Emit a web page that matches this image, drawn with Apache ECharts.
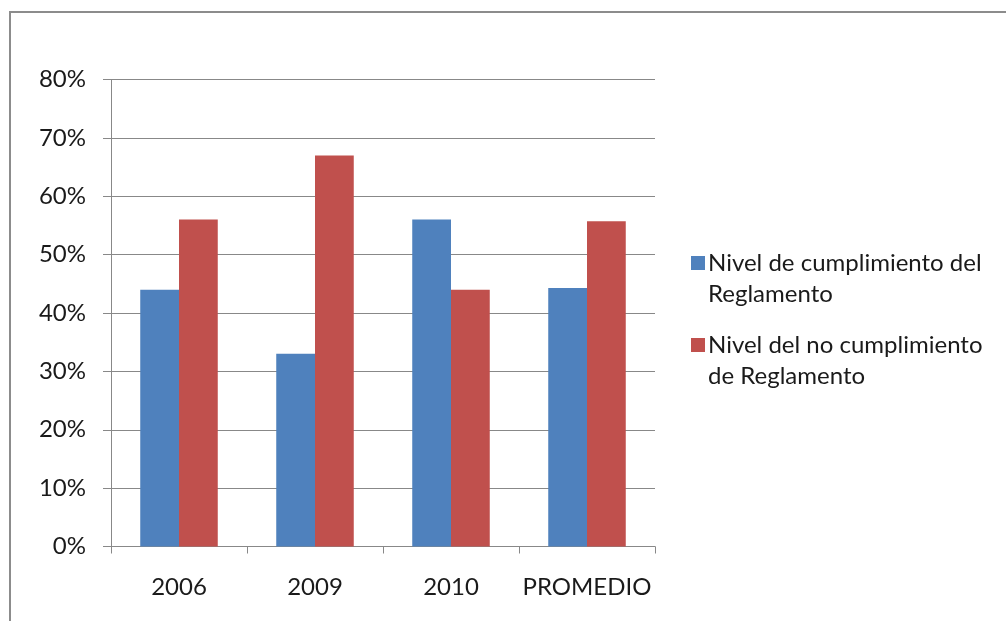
<!DOCTYPE html>
<html>
<head>
<meta charset="utf-8">
<script src="https://cdn.jsdelivr.net/npm/echarts@6/dist/echarts.min.js"></script>
<style>
html,body{margin:0;padding:0;background:#fff;}
#main{width:1006px;height:621px;}
</style>
</head>
<body>
<div id="main"></div>
<script>
var categories = ['2006', '2009', '2010', 'PROMEDIO'];
var seriesNames = ['Nivel de cumplimiento del\nReglamento', 'Nivel del no cumplimiento\nde Reglamento'];
var cumplimiento = [44, 33, 56, 44.3];
var noCumplimiento = [56, 67, 44, 55.7];

var chart = echarts.init(document.getElementById('main'), null, {renderer: 'canvas'});
var font = 'Lato, "Open Sans", sans-serif';
var iconPath = 'path://M0,0L14,0 M0,9H14V23H0Z M0,64L14,64';
chart.setOption({
  backgroundColor: '#ffffff',
  animation: false,
  graphic: [{
    type: 'rect',
    shape: {x: 10, y: 12, width: 1100, height: 700},
    style: {fill: 'none', stroke: '#8c8c8c', lineWidth: 2},
    silent: true
  }],
  grid: {left: 111, right: 351, top: 79.5, bottom: 74.5, containLabel: false},
  legend: {
    orient: 'vertical',
    left: 686,
    top: 242,
    itemWidth: 14,
    itemHeight: 64,
    itemGap: 18,
    icon: iconPath,
    textStyle: {fontFamily: font, fontSize: 24, color: '#1a1a1a', lineHeight: 31, padding: [0, 0, 0, -2]},
    data: seriesNames
  },
  xAxis: {
    type: 'category',
    data: categories,
    axisLine: {lineStyle: {color: '#888888', width: 1}},
    axisTick: {show: true, length: 7, interval: 0, lineStyle: {color: '#888888'}},
    axisLabel: {fontFamily: font, fontSize: 24, color: '#1a1a1a', margin: 29, interval: 0}
  },
  yAxis: {
    type: 'value',
    min: 0,
    max: 80,
    interval: 10,
    axisLine: {show: true, lineStyle: {color: '#888888', width: 1}},
    axisTick: {show: true, length: 8, lineStyle: {color: '#888888'}},
    splitLine: {lineStyle: {color: '#888888', width: 1}},
    axisLabel: {fontFamily: font, fontSize: 24, color: '#1a1a1a', margin: 25, formatter: '{value}%'}
  },
  series: [
    {name: seriesNames[0], type: 'bar', data: cumplimiento, barGap: '0%', barCategoryGap: '43%',
     itemStyle: {color: '#4F81BD'}},
    {name: seriesNames[1], type: 'bar', data: noCumplimiento, barGap: '0%', barCategoryGap: '43%',
     itemStyle: {color: '#C0504D'}}
  ]
});
</script>
</body>
</html>
